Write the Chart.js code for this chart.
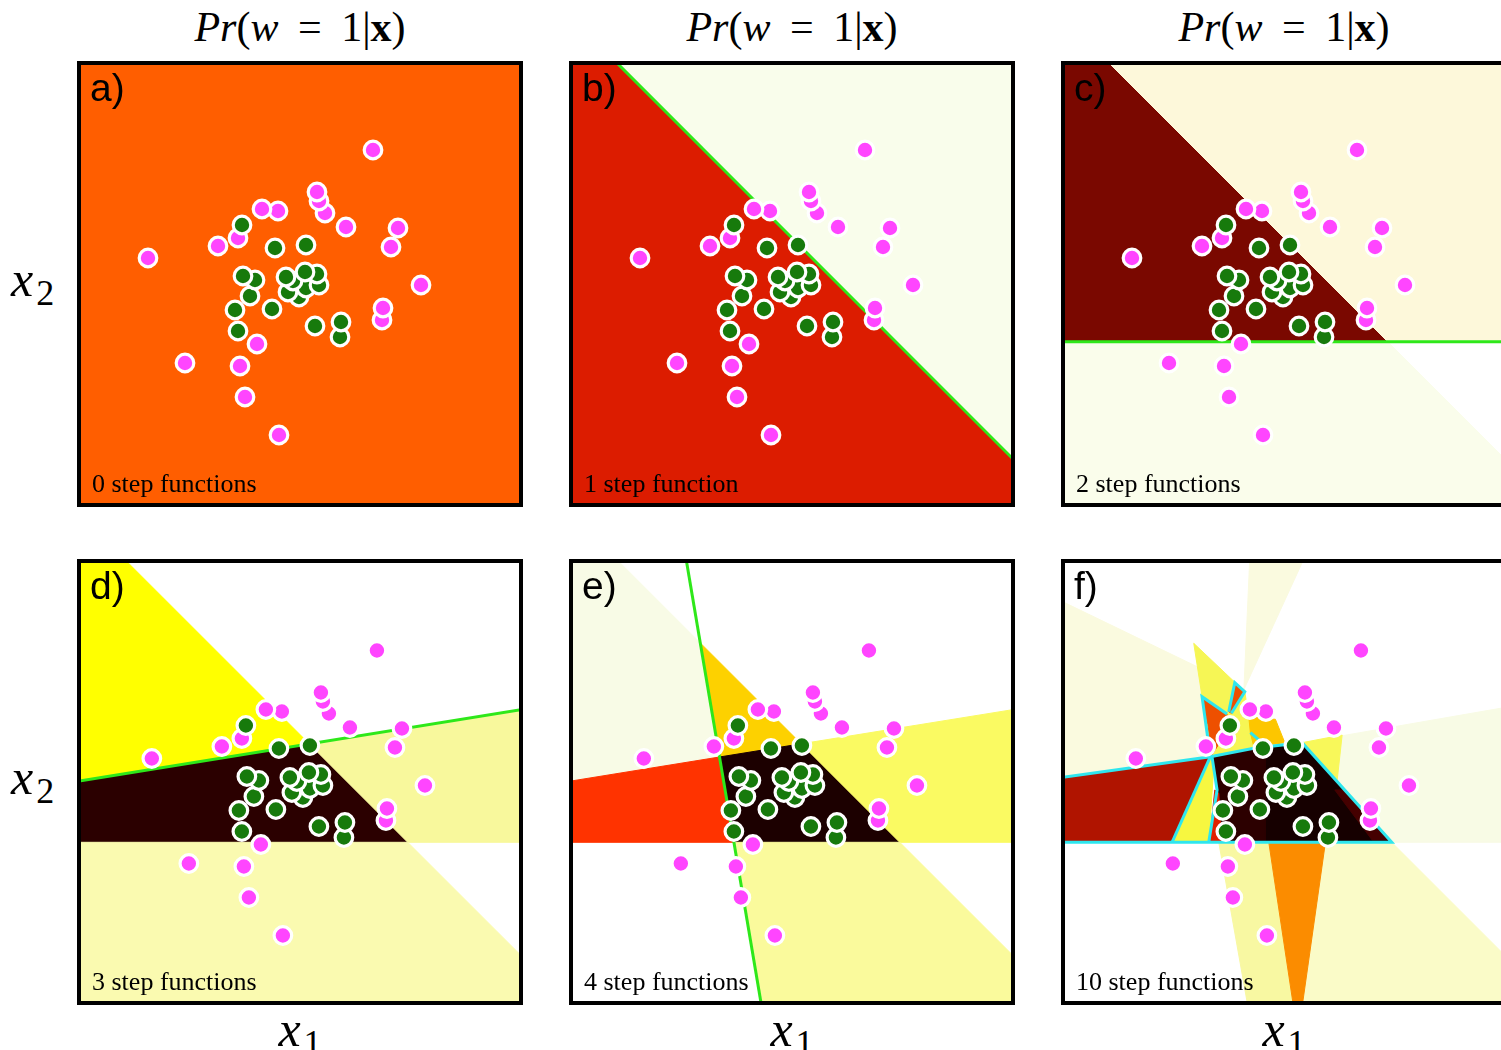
<!DOCTYPE html>
<html>
<head>
<meta charset="utf-8">
<script src="https://cdn.jsdelivr.net/npm/chart.js@4/dist/chart.umd.min.js"></script>
<style>
  html, body { margin: 0; padding: 0; background: #fff; }
  body { width: 1501px; height: 1050px; overflow: hidden; position: relative; }
  .panel { position: absolute; width: 438px; height: 438px; border: 4px solid #000; }
  .panel canvas { display: block; }
  .math { position: absolute; font-family: "Liberation Serif", "DejaVu Serif", serif; color: #000; white-space: nowrap; }
  .title { font-size: 42px; width: 438px; text-align: center; top: 0px; line-height: 54px; word-spacing: 9px; }
  .it { font-style: italic; }
  .axl { font-size: 50px; line-height: 50px; }
  .axl .it { letter-spacing: 3px; }
  .axl sub { font-size: 36px; font-style: normal; vertical-align: -0.25em; }
  .xl { width: 438px; text-align: center; top: 1004px; }
  .letter { position: absolute; font-family: "Liberation Sans", Arial, sans-serif; font-size: 39px; line-height: 40px; color: #000; z-index: 2; }
  .steps { position: absolute; font-family: "Liberation Serif", serif; font-size: 26px; line-height: 26px; color: #000; z-index: 2; }
</style>
</head>
<body>

<div class="math title" style="left:81px"><span class="it">Pr</span>(<span class="it">w</span> = 1|<b>x</b>)</div>
<div class="math title" style="left:573px"><span class="it">Pr</span>(<span class="it">w</span> = 1|<b>x</b>)</div>
<div class="math title" style="left:1065px"><span class="it">Pr</span>(<span class="it">w</span> = 1|<b>x</b>)</div>

<div class="math axl" style="left:11px;top:254px"><span class="it">x</span><sub>2</sub></div>
<div class="math axl" style="left:11px;top:752px"><span class="it">x</span><sub>2</sub></div>

<div class="math axl xl" style="left:81px"><span class="it">x</span><sub>1</sub></div>
<div class="math axl xl" style="left:573px"><span class="it">x</span><sub>1</sub></div>
<div class="math axl xl" style="left:1065px"><span class="it">x</span><sub>1</sub></div>

<script>
// ---- observations (class w = 0 in magenta, class w = 1 in green) ----
const pinkX = [-0.21, -0.55, -0.60, -1.15, -0.43, 0.82, 0.83, 1.21, 0.91, -1.52, -0.82, -0.62, 0.98, 0.46, 0.25, -0.22, -0.38, 0.19, 0.17, 0.73];
const pinkY = [-1.51, -1.13, -0.82, -0.79, -0.60, -0.36, -0.24, -0.01, 0.37, 0.26, 0.38, 0.46, 0.56, 0.57, 0.71, 0.73, 0.75, 0.83, 0.92, 1.34];
const greenX = [0.40, 0.41, 0.15, -0.62, -0.65, -0.28, -0.50, -0.45, -0.57, -0.01, -0.12, 0.06, 0.19, -0.07, -0.14, 0.17, 0.05, -0.25, 0.06, -0.58];
const greenY = [-0.53, -0.38, -0.42, -0.47, -0.26, -0.25, -0.12, 0.04, 0.08, -0.13, -0.08, -0.04, -0.01, 0.03, 0.07, 0.10, 0.12, 0.36, 0.39, 0.59];

// ---- step-function boundaries used by the classifiers ----
const stepL1 = [[-1.94, 2.4], [2.4, -1.94]];     // x1 + x2 = 0.46
const stepH  = [[-2.4, -0.578], [2.4, -0.578]];   // x2 = -0.578
const stepL3 = [[-2.4, 0.010], [2.4, 0.786]];     // x2 = 0.398 + 0.1615 x1
const stepL4 = [[-1.122, 2.4], [-0.312, -2.4]];   // x1 = -0.717 - 0.169 x2

// contour of Pr(w=1|x) = 0.5 for the 10-step model
const contourF = [
  [[-2.4, 0.052], [-0.775, 0.278], [-0.341, 0.362], [0.142, 0.418], [1.038, -0.578], [-2.4, -0.578]],
  [[-1.158, -0.578], [-0.775, 0.278]],
  [[-0.791, -0.578], [-0.708, -0.055], [-0.758, 0.272]],
  [[-0.775, 0.278], [-0.858, 0.878], [-0.608, 0.705]],
  [[-0.591, 0.728], [-0.531, 1.018], [-0.431, 0.928], [-0.565, 0.712]],
  [[-0.375, 0.518], [-0.258, 0.418]]
];

// ---- probability regions for each model (colour = Pr(w=1|x), hot colormap) ----
const regionsA = [];
const regionsB = [
  { c: '#dc1c00', p: [[-2.4, 2.4], [-1.94, 2.4], [2.4, -1.94], [2.4, -2.4], [-2.4, -2.4]] }
];
const regionsC = [
  { c: '#7a0800', p: [[-2.4, 2.4], [-1.94, 2.4], [1.038, -0.578], [-2.4, -0.578]] },
  { c: '#fdf8da', p: [[-1.94, 2.4], [2.4, 2.4], [2.4, -0.578], [1.038, -0.578]] },
  { c: '#fafdeb', p: [[-2.4, -0.578], [1.038, -0.578], [2.4, -1.94], [2.4, -2.4], [-2.4, -2.4]] }
];
const regionsD = [
  { c: '#ffff00', p: [[-2.4, 0.010], [0.053, 0.407], [-1.94, 2.4], [-2.4, 2.4]] },
  { c: '#2b0000', p: [[-2.4, 0.010], [0.053, 0.407], [1.038, -0.578], [-2.4, -0.578]] },
  { c: '#f8f89c', p: [[0.053, 0.407], [2.4, 0.786], [2.4, -0.578], [1.038, -0.578]] },
  { c: '#fafab0', p: [[-2.4, -0.578], [1.038, -0.578], [2.4, -1.94], [2.4, -2.4], [-2.4, -2.4]] }
];
const regionsE = [
  { c: '#f8fbe6', p: [[-2.4, 0.010], [-0.764, 0.275], [-0.956, 1.416], [-1.94, 2.4], [-2.4, 2.4]] },
  { c: '#ff3300', p: [[-2.4, 0.010], [-0.764, 0.275], [-0.620, -0.578], [-2.4, -0.578]] },
  { c: '#fdd100', p: [[-0.956, 1.416], [-0.764, 0.275], [0.053, 0.407]] },
  { c: '#1c0000', p: [[-0.764, 0.275], [0.053, 0.407], [1.038, -0.578], [-0.620, -0.578]] },
  { c: '#fafa62', p: [[0.053, 0.407], [2.4, 0.786], [2.4, -0.578], [1.038, -0.578]] },
  { c: '#fafa9c', p: [[-0.620, -0.578], [1.038, -0.578], [2.4, -1.94], [2.4, -2.4], [-0.312, -2.4]] }
];
const regionsF = [
  { c: '#fafadf', p: [[-2.4, 1.9], [-0.425, 0.945], [-0.775, 0.278], [-2.4, 0.052]] },
  { c: '#fafadf', p: [[-0.375, 2.4], [0.225, 2.4], [-0.44, 0.95]] },
  { c: '#f8fbe5', p: [[0.142, 0.418], [2.4, 0.81], [2.4, -0.578], [1.038, -0.578]] },
  { c: '#fafbc8', p: [[0.375, -0.578], [1.038, -0.578], [2.4, -1.94], [2.4, -2.4], [0.117, -2.4]] },
  { c: '#f8f8a2', p: [[-0.691, -0.578], [-0.191, -0.578], [0.083, -2.4], [-0.368, -2.4]] },
  { c: '#fb8c00', p: [[-0.191, -0.578], [0.375, -0.578], [0.117, -2.4], [0.083, -2.4]] },
  { c: '#f8f85a', p: [[0.142, 0.418], [0.542, 0.495], [0.482, -0.055]] },
  { c: '#b01400', p: [[-2.4, 0.052], [-0.775, 0.278], [-1.158, -0.578], [-2.4, -0.578]] },
  { c: '#f7f740', p: [[-0.775, 0.278], [-0.741, 0.178], [-0.791, -0.578], [-1.158, -0.578]] },
  { c: '#f6f655', p: [[-0.941, 1.412], [-0.431, 0.928], [-0.391, 0.678], [-0.341, 0.378], [-0.758, 0.272], [-0.858, 0.878]] },
  { c: '#fdc600', p: [[-0.391, 0.678], [-0.125, 0.652], [-0.031, 0.418], [-0.341, 0.378], [-0.375, 0.518]] },
  { c: '#ee5000', p: [[-0.858, 0.878], [-0.608, 0.705], [-0.66, 0.45], [-0.758, 0.30], [-0.80, 0.60]] },
  { c: '#ee5000', p: [[-0.531, 1.018], [-0.431, 0.928], [-0.565, 0.712], [-0.591, 0.728]] },
  { c: '#160000', p: [[-0.758, 0.272], [-0.341, 0.362], [0.142, 0.418], [1.038, -0.578], [-0.791, -0.578], [-0.708, -0.055]] },
  { c: '#2c0000', p: [[-0.758, 0.272], [-0.225, 0.375], [-0.225, -0.578], [-0.791, -0.578], [-0.708, -0.055]] },
  { c: '#450000', p: [[0.469, -0.055], [0.569, -0.055], [1.025, -0.555], [0.842, -0.555]] },
  { c: '#e02000', p: [[-0.731, -0.055], [-0.691, -0.088], [-0.665, -0.578], [-0.785, -0.578]] }
];

const PINK = '#ff45ff';
const GREEN = '#177a0c';
const STEP_LINE = '#2ee81a';
const CONTOUR = '#2ee6ee';

const cols = [81, 573, 1065];
const rows = [65, 563];
const topRange = { x: [-2.19, 2.19], y: [-2.19, 2.19] };
const botRange = { x: [-2.228, 2.15], y: [-2.165, 2.215] };

const panels = [
  { letter: 'a)', steps: '0 step functions',  col: 0, row: 0, bg: '#ff5e00', regions: regionsA, lines: [], lineColor: STEP_LINE },
  { letter: 'b)', steps: '1 step function',   col: 1, row: 0, bg: '#f9fdeb', regions: regionsB, lines: [stepL1], lineColor: STEP_LINE },
  { letter: 'c)', steps: '2 step functions',  col: 2, row: 0, bg: '#ffffff', regions: regionsC, lines: [stepH], lineColor: STEP_LINE },
  { letter: 'd)', steps: '3 step functions',  col: 0, row: 1, bg: '#ffffff', regions: regionsD, lines: [stepL3], lineColor: STEP_LINE },
  { letter: 'e)', steps: '4 step functions',  col: 1, row: 1, bg: '#ffffff', regions: regionsE, lines: [stepL4], lineColor: STEP_LINE },
  { letter: 'f)', steps: '10 step functions', col: 2, row: 1, bg: '#ffffff', regions: regionsF, lines: contourF, lineColor: CONTOUR }
];

// fills the probability regions underneath the datasets, clipped to the plot area
const regionPlugin = {
  id: 'regions',
  beforeDatasetsDraw(chart, args, opts) {
    const { ctx, chartArea: a, scales: { x, y } } = chart;
    ctx.save();
    ctx.beginPath();
    ctx.rect(a.left, a.top, a.width, a.height);
    ctx.clip();
    ctx.fillStyle = opts.background;
    ctx.fillRect(a.left, a.top, a.width, a.height);
    for (const r of opts.shapes) {
      ctx.beginPath();
      r.p.forEach(([vx, vy], i) => {
        const px = x.getPixelForValue(vx), py = y.getPixelForValue(vy);
        if (i === 0) ctx.moveTo(px, py); else ctx.lineTo(px, py);
      });
      ctx.closePath();
      ctx.fillStyle = r.c;
      ctx.strokeStyle = r.c;
      ctx.lineWidth = 1;
      ctx.fill();
      ctx.stroke();
    }
    ctx.restore();
  }
};

const pinkPts = pinkX.map((v, i) => ({ x: v, y: pinkY[i] }));
const greenPts = greenX.map((v, i) => ({ x: v, y: greenY[i] }));

panels.forEach((p) => {
  const left = cols[p.col], top = rows[p.row];
  const wrap = document.createElement('div');
  wrap.className = 'panel';
  wrap.style.left = (left - 4) + 'px';
  wrap.style.top = (top - 4) + 'px';
  const cv = document.createElement('canvas');
  cv.width = 438; cv.height = 438;
  wrap.appendChild(cv);
  document.body.appendChild(wrap);

  const lab = document.createElement('div');
  lab.className = 'letter';
  lab.textContent = p.letter;
  lab.style.left = (left + 9) + 'px';
  lab.style.top = (top + 3) + 'px';
  document.body.appendChild(lab);

  const st = document.createElement('div');
  st.className = 'steps';
  st.textContent = p.steps;
  st.style.left = (left + 11) + 'px';
  st.style.top = (top + 406) + 'px';
  document.body.appendChild(st);

  const rng = p.row === 0 ? topRange : botRange;
  const datasets = [
    { label: 'w = 1', data: greenPts, backgroundColor: GREEN, borderColor: '#ffffff', borderWidth: 3.2, pointRadius: 8.8 },
    { label: 'w = 0', data: pinkPts, backgroundColor: PINK, borderColor: '#ffffff', borderWidth: 3.2, pointRadius: 8.8 }
  ];
  p.lines.forEach((ln, k) => {
    datasets.push({
      label: 'boundary ' + (k + 1),
      data: ln.map(([vx, vy]) => ({ x: vx, y: vy })),
      showLine: true, borderColor: p.lineColor, borderWidth: 3, pointRadius: 0, fill: false
    });
  });

  new Chart(cv, {
    type: 'scatter',
    data: { datasets },
    options: {
      responsive: false,
      animation: false,
      events: [],
      layout: { padding: 0, autoPadding: false },
      scales: {
        x: { type: 'linear', min: rng.x[0], max: rng.x[1], display: false },
        y: { type: 'linear', min: rng.y[0], max: rng.y[1], display: false }
      },
      plugins: {
        legend: { display: false },
        tooltip: { enabled: false },
        regions: { background: p.bg, shapes: p.regions }
      }
    },
    plugins: [regionPlugin]
  });
});
</script>
</body>
</html>
